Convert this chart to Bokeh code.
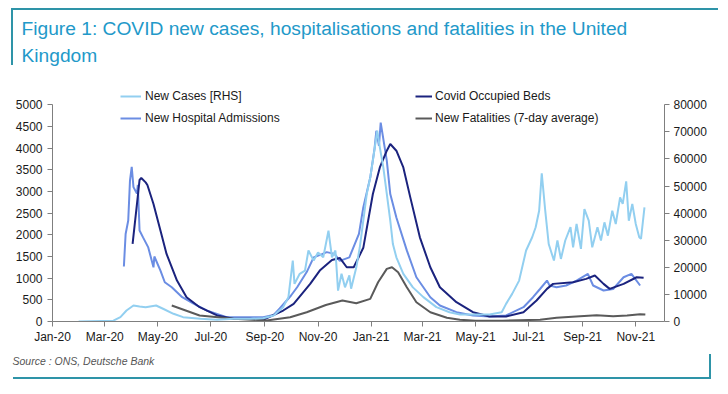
import pandas as pd
from bokeh.plotting import figure
from bokeh.models import (Range1d, LinearAxis, FixedTicker, DatetimeTickFormatter,
                          Legend, LegendItem, Title, ColumnDataSource, InlineStyleSheet)
from bokeh.embed import file_html
from bokeh.resources import INLINE

# ---------------- data ----------------
cases_dates = ["2020-01-31", "2020-03-11", "2020-03-19", "2020-03-26", "2020-04-03", "2020-04-10",
               "2020-04-17", "2020-04-29", "2020-05-07", "2020-05-19", "2020-05-30", "2020-06-19",
               "2020-07-08", "2020-07-27", "2020-08-15", "2020-08-30", "2020-09-11", "2020-09-22",
               "2020-09-28", "2020-10-03", "2020-10-05", "2020-10-11", "2020-10-17", "2020-10-21",
               "2020-10-27", "2020-11-01", "2020-11-07", "2020-11-13", "2020-11-17", "2020-11-21",
               "2020-11-24", "2020-11-28", "2020-12-02", "2020-12-07", "2020-12-09", "2020-12-15",
               "2020-12-19", "2020-12-23", "2020-12-27", "2020-12-31", "2021-01-03", "2021-01-08",
               "2021-01-11", "2021-01-15", "2021-01-19", "2021-01-23", "2021-01-26", "2021-01-30",
               "2021-02-07", "2021-02-18", "2021-03-02", "2021-03-17", "2021-04-01", "2021-04-13",
               "2021-04-28", "2021-05-17", "2021-05-31", "2021-06-05", "2021-06-12", "2021-06-20",
               "2021-06-28", "2021-07-05", "2021-07-09", "2021-07-13", "2021-07-16", "2021-07-20",
               "2021-07-24", "2021-07-30", "2021-08-03", "2021-08-07", "2021-08-12", "2021-08-18",
               "2021-08-21", "2021-08-25", "2021-08-30", "2021-09-03", "2021-09-08", "2021-09-12",
               "2021-09-18", "2021-09-22", "2021-09-26", "2021-09-30", "2021-10-05", "2021-10-09",
               "2021-10-14", "2021-10-17", "2021-10-21", "2021-10-24", "2021-10-28", "2021-11-01",
               "2021-11-05", "2021-11-07", "2021-11-11"]
cases_values = [0, 300, 1600, 4050, 5900, 5500, 5250, 5900, 4700, 2850, 1600, 1000,
                650, 1000, 1000, 1200, 2200, 5300, 9000, 22500, 13900, 17600, 18800, 26200,
                22500, 25500, 23700, 33500, 23700, 26200, 11400, 17600, 12600, 17000, 12100, 20000,
                27400, 37200, 47100, 53200, 59400, 70400, 64300, 56900, 47100, 37200, 28600, 23700,
                17600, 12600, 9000, 5300, 3400, 2600, 2600, 2600, 3400, 6500, 10200, 15100,
                26200, 31100, 34800, 40900, 54700, 40900, 28600, 22500, 29900, 23100, 29900, 34800,
                27400, 36000, 26800, 41500, 37200, 27400, 34800, 29900, 36600, 31700, 40900, 36000,
                45800, 43400, 51700, 37200, 43400, 36000, 31100, 30500, 42100]

adm_dates = ["2020-03-23", "2020-03-25", "2020-03-28", "2020-03-30", "2020-04-01", "2020-04-03",
             "2020-04-07", "2020-04-08", "2020-04-10", "2020-04-14", "2020-04-20", "2020-04-26",
             "2020-04-27", "2020-05-04", "2020-05-09", "2020-05-17", "2020-05-29", "2020-06-11",
             "2020-06-26", "2020-07-19", "2020-08-15", "2020-08-30", "2020-09-11", "2020-09-18",
             "2020-10-01", "2020-10-08", "2020-10-19", "2020-10-27", "2020-11-05", "2020-11-11",
             "2020-11-20", "2020-11-26", "2020-12-07", "2020-12-18", "2020-12-23", "2020-12-31",
             "2021-01-05", "2021-01-07", "2021-01-10", "2021-01-12", "2021-01-19", "2021-01-23",
             "2021-01-30", "2021-02-11", "2021-02-22", "2021-03-10", "2021-03-21", "2021-04-09",
             "2021-04-28", "2021-05-17", "2021-06-05", "2021-06-25", "2021-07-06", "2021-07-14",
             "2021-07-22", "2021-07-25", "2021-08-02", "2021-08-13", "2021-08-25", "2021-09-07",
             "2021-09-13", "2021-09-25", "2021-10-06", "2021-10-18", "2021-10-27", "2021-11-06"]
adm_values = [1270, 2020, 2330, 3250, 3570, 3100, 2950, 3150, 2100, 1940, 1710, 1250,
              1500, 1175, 905, 790, 560, 410, 255, 100, 100, 100, 150, 300,
              600, 790, 1140, 1480, 1550, 1600, 1560, 1400, 1480, 2020, 2630, 3320,
              4000, 4400, 4050, 4590, 3710, 2940, 2400, 1640, 1020, 560, 370, 215,
              140, 115, 140, 330, 560, 750, 945, 830, 790, 830, 945, 1100,
              830, 715, 750, 1020, 1100, 830]

beds_dates = ["2020-04-02", "2020-04-07", "2020-04-10", "2020-04-12", "2020-04-17", "2020-04-19",
              "2020-04-26", "2020-05-04", "2020-05-11", "2020-05-23", "2020-06-03", "2020-06-18",
              "2020-07-08", "2020-07-27", "2020-08-15", "2020-08-30", "2020-09-22", "2020-10-04",
              "2020-10-23", "2020-11-03", "2020-11-17", "2020-11-26", "2020-12-04", "2020-12-12",
              "2020-12-23", "2021-01-03", "2021-01-11", "2021-01-19", "2021-01-23",
              "2021-01-30", "2021-02-07", "2021-02-15", "2021-02-26", "2021-03-10", "2021-03-21",
              "2021-04-09", "2021-04-28", "2021-05-17", "2021-06-05", "2021-06-25", "2021-07-10",
              "2021-07-22", "2021-07-29", "2021-08-21", "2021-09-05", "2021-09-15", "2021-09-25",
              "2021-10-02", "2021-10-18", "2021-11-02", "2021-11-10"]
beds_values = [1790, 2710, 3265, 3310, 3210, 3150, 2710, 2100, 1560, 945, 560, 330,
               140, 62, 62, 40, 253, 408, 868, 1175, 1420, 1467, 1251, 1251,
               1700, 2942, 3555, 3940, 4094, 3940, 3555, 2864, 1942, 1251, 790,
               445, 214, 115, 115, 214, 484, 753, 868, 906, 984, 1060, 868,
               753, 868, 1021, 1007]

deaths_dates = ["2020-05-17", "2020-06-18", "2020-07-27", "2020-09-03", "2020-09-30", "2020-10-19",
                "2020-11-10", "2020-11-29", "2020-12-15", "2020-12-31", "2021-01-09",
                "2021-01-19", "2021-01-25", "2021-02-01",
                "2021-02-11", "2021-02-22", "2021-03-10", "2021-03-29", "2021-04-13", "2021-05-01",
                "2021-06-01", "2021-07-14", "2021-08-02", "2021-08-29", "2021-09-17", "2021-10-06",
                "2021-10-22", "2021-11-06", "2021-11-12"]
deaths_values = [369, 138, 62, 23, 99, 214, 380, 484, 422, 522, 906,
                 1214, 1251, 1136, 790, 445, 214, 85, 40, 20,
                 20, 40, 85, 123, 146, 123, 138, 168, 161]

x_tick_dates = ["2020-01-01", "2020-03-01", "2020-05-01", "2020-07-01", "2020-09-01", "2020-11-01",
                "2021-01-01", "2021-03-01", "2021-05-01", "2021-07-01", "2021-09-01", "2021-11-01"]
left_ticks = [0, 500, 1000, 1500, 2000, 2500, 3000, 3500, 4000, 4500, 5000]
right_ticks = [0, 10000, 20000, 30000, 40000, 50000, 60000, 70000, 80000]

title_lines = ["Figure 1: COVID new cases, hospitalisations and fatalities in the United",
               "Kingdom"]
source_text = "Source : ONS, Deutsche Bank"

# ---------------- styles ----------------
TEAL_TEXT = "#2299C9"
TEAL_LINE = "#2E94A8"
C_CASES = "#92CFF0"
C_ADM = "#6B8DE3"
C_BEDS = "#1B237E"
C_DEATHS = "#5A5A5A"
AXIS_C = "#7F7F7F"
FONT = "Liberation Sans"

deco_css = f"""
:host {{ position: relative; }}
:host::before {{ content: ""; position: absolute; left: 11px; top: 8px; width: 705px; height: 55px;
  border-top: 2px solid {TEAL_LINE}; border-left: 2px solid {TEAL_LINE}; z-index: 10;
  pointer-events: none; }}
:host::after {{ content: ""; position: absolute; left: 13px; top: 354px; width: 696px; height: 23px;
  border-bottom: 2px solid {TEAL_LINE}; border-right: 2px solid {TEAL_LINE}; z-index: 10;
  pointer-events: none; }}
"""

p = figure(width=720, height=386, output_backend="svg", toolbar_location=None,
           x_axis_type="datetime",
           x_range=Range1d(pd.Timestamp("2020-01-01"), pd.Timestamp("2021-12-04")),
           y_range=Range1d(0, 5560),
           min_border_left=52, min_border_right=56, min_border_top=80, min_border_bottom=65,
           stylesheets=[InlineStyleSheet(css=deco_css)])
p.extra_y_ranges = {"right": Range1d(0, 88960)}
p.outline_line_color = None
p.grid.visible = False
p.background_fill_color = "white"
p.border_fill_color = "white"

# two-line title
p.title.text = "\n".join(title_lines)
p.title.align = "left"
p.title.offset = -31
p.title.standoff = 30
p.title.text_font = FONT
p.title.text_font_size = "19.2px"
p.title.text_font_style = "normal"
p.title.text_line_height = 1.25
p.title.text_color = TEAL_TEXT
p.add_layout(Title(text=source_text, align="left", offset=-40, standoff=12, text_font=FONT,
                   text_font_size="10.5px", text_font_style="italic", text_color="#555555"), "below")


def style_axis(ax):
    ax.axis_line_color = AXIS_C
    ax.major_tick_line_color = AXIS_C
    ax.minor_tick_line_color = None
    ax.major_tick_out = 5
    ax.major_tick_in = 0
    ax.major_label_text_font = FONT
    ax.major_label_text_font_size = "12px"
    ax.major_label_text_color = "#1A1A1A"


xax = p.xaxis[0]
xax.ticker = FixedTicker(ticks=[pd.Timestamp(d).value // 10**6 for d in x_tick_dates])
fmt = "%b-%y"
xax.formatter = DatetimeTickFormatter(years=fmt, months=fmt, days=fmt, hours=fmt, hourmin=fmt,
                                      minutes=fmt, minsec=fmt, seconds=fmt, milliseconds=fmt,
                                      microseconds=fmt)
xax.major_label_standoff = 3
style_axis(xax)

yax = p.yaxis[0]
yax.ticker = FixedTicker(ticks=left_ticks)
yax.bounds = (0, 5000)
yax.major_label_standoff = 5
style_axis(yax)

rax = LinearAxis(y_range_name="right", ticker=FixedTicker(ticks=right_ticks), bounds=(0, 80000))
rax.major_label_standoff = 4
style_axis(rax)
p.add_layout(rax, "right")

src_adm = ColumnDataSource(dict(x=pd.to_datetime(adm_dates), y=adm_values))
src_beds = ColumnDataSource(dict(x=pd.to_datetime(beds_dates), y=beds_values))
src_deaths = ColumnDataSource(dict(x=pd.to_datetime(deaths_dates), y=deaths_values))
src_cases = ColumnDataSource(dict(x=pd.to_datetime(cases_dates), y=cases_values))

r_adm = p.line("x", "y", source=src_adm, line_color=C_ADM, line_width=2)
r_beds = p.line("x", "y", source=src_beds, line_color=C_BEDS, line_width=2)
r_deaths = p.line("x", "y", source=src_deaths, line_color=C_DEATHS, line_width=2)
r_cases = p.line("x", "y", source=src_cases, line_color=C_CASES, line_width=2, y_range_name="right")


def make_legend(items, loc, gw, standoff):
    lg = Legend(items=items, location=loc, orientation="vertical",
                glyph_width=gw, glyph_height=14, label_height=14, label_standoff=standoff,
                spacing=8, padding=0, margin=0, border_line_color=None,
                background_fill_alpha=0, label_text_font=FONT, label_text_font_size="12px",
                label_text_color="#1A1A1A")
    p.add_layout(lg, "center")


make_legend([LegendItem(label="New Cases [RHS]", renderers=[r_cases]),
             LegendItem(label="New Hospital Admissions", renderers=[r_adm])], (68, 196), 21, 4)
make_legend([LegendItem(label="Covid Occupied Beds", renderers=[r_beds]),
             LegendItem(label="New Fatalities (7-day average)", renderers=[r_deaths])], (363, 196), 17, 3)

open("out.html", "w").write(file_html(p, INLINE))
